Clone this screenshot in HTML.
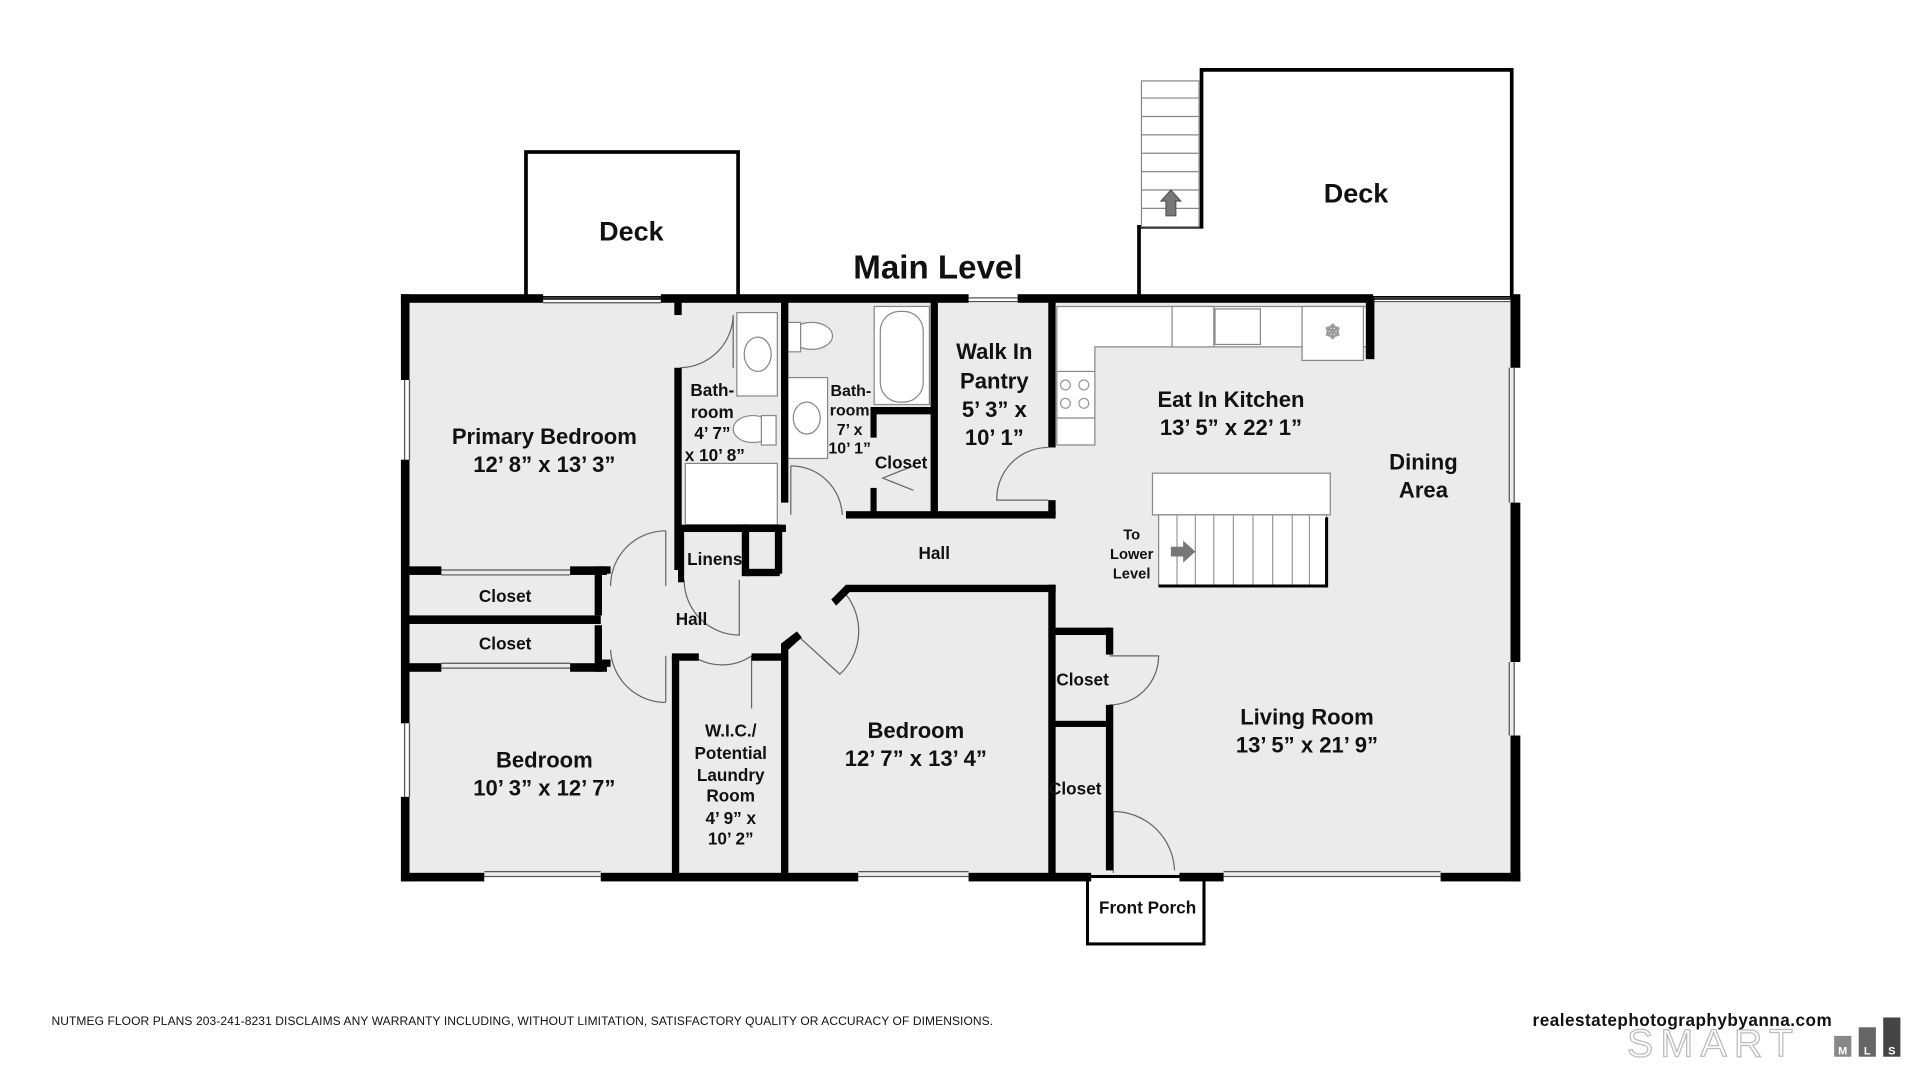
<!DOCTYPE html>
<html><head><meta charset="utf-8"><style>
html,body{margin:0;padding:0;background:#fff;}
svg{display:block}
text{font-family:"Liberation Sans",Arial,sans-serif;font-weight:bold;fill:#111;text-anchor:middle}
</style></head><body>
<svg width="1920" height="1080" viewBox="0 0 1566 881" preserveAspectRatio="none" xmlns="http://www.w3.org/2000/svg">
<rect width="1566" height="881" fill="#fff"/>
<!-- decks -->
<rect x="429" y="124" width="173" height="119" fill="#fff" stroke="#000" stroke-width="3"/>
<polygon points="929,243 929,185 980,185 980,57 1233,57 1233,243" fill="#fff" stroke="#000" stroke-width="3"/>
<g stroke="#888" stroke-width="1" fill="#fff">
<rect x="931" y="66" width="47" height="119"/>
<line x1="931" y1="80" x2="978" y2="80"/><line x1="931" y1="95" x2="978" y2="95"/><line x1="931" y1="110" x2="978" y2="110"/><line x1="931" y1="125" x2="978" y2="125"/><line x1="931" y1="140" x2="978" y2="140"/><line x1="931" y1="155" x2="978" y2="155"/><line x1="931" y1="170" x2="978" y2="170"/>
</g>
<polygon points="955,155 963,164 959,164 959,176 951,176 951,164 947,164" fill="#777" stroke="#555"/>
<rect x="333" y="246" width="902" height="468" fill="#ebebeb"/>
<rect x="887" y="715" width="95" height="55" fill="#fff" stroke="#000" stroke-width="2.5"/>
<g fill="#fff" stroke="#888" stroke-width="1">
<rect x="601" y="255" width="33" height="68"/><ellipse cx="618" cy="289" rx="11" ry="14"/>
<rect x="559" y="378" width="75" height="50"/>
<rect x="641" y="308" width="34" height="66"/><ellipse cx="658" cy="341" rx="11" ry="13"/>
<ellipse cx="662" cy="274" rx="17" ry="11"/><rect x="641" y="263" width="12" height="24"/>
<ellipse cx="614" cy="350" rx="16" ry="11"/><rect x="621" y="339" width="12" height="24"/>
<rect x="713" y="250" width="45" height="80"/><rect x="718" y="254" width="35" height="74" rx="16"/>
<path d="M862,250 H1118 V283 H893 V363 H862 Z"/>
<rect x="956" y="250" width="34" height="33"/><rect x="991" y="252" width="37" height="29"/>
<rect x="1062" y="250" width="50" height="44"/>
<rect x="862" y="303" width="31" height="38"/>
<rect x="940" y="386" width="145" height="34"/>
<rect x="945" y="420" width="137" height="58"/>
</g>
<g stroke="#999" fill="none" stroke-width="1">
<line x1="960" y1="420" x2="960" y2="478"/><line x1="975" y1="420" x2="975" y2="478"/><line x1="990" y1="420" x2="990" y2="478"/><line x1="1006" y1="420" x2="1006" y2="478"/><line x1="1022" y1="420" x2="1022" y2="478"/><line x1="1038" y1="420" x2="1038" y2="478"/><line x1="1054" y1="420" x2="1054" y2="478"/><line x1="1068" y1="420" x2="1068" y2="478"/>
<circle cx="869" cy="314" r="4"/><circle cx="884" cy="314" r="4"/><circle cx="869" cy="329" r="4"/><circle cx="884" cy="329" r="4"/>
<text x="1087" y="276" style="font-size:16px;fill:#444;font-weight:normal">❄</text>
</g>
<polyline points="1082,422 1082,478 945,478" fill="none" stroke="#000" stroke-width="2.5"/>
<polygon points="955,446 965,446 965,441 975,450 965,459 965,454 955,454" fill="#777"/>
<g stroke="#555" stroke-width="1" fill="none">
<path d="M443,243 H539 M443,247 H539 M790,243 H830 M790,246 H830 M1120,243 H1235 M1120,246 H1235"/>
<path d="M330,310 V375 M334,310 V375 M330,590 V650 M334,590 V650 M1235,300 V410 M1231,300 V410 M1235,540 V600 M1231,540 V600"/>
<path d="M395,715 H490 M395,711 H490 M700,715 H790 M700,711 H790 M998,715 H1175 M998,711 H1175"/>
<path d="M360,465 H465 M360,469 H465 M360,545 H465 M360,541 H465"/>
</g>
<g stroke="#666" stroke-width="1" fill="none">
<path d="M555,300 A44,44 0 0 0 598,257 M598,257 V300"/>
<path d="M543,433 V478 M543,433 A45,45 0 0 0 498,478"/>
<path d="M603,473 V518 A45,45 0 0 1 558,473"/>
<path d="M543,573 V535 M543,573 A45,45 0 0 1 498,530"/>
<path d="M613,578 V535 A43,43 0 0 1 570,538"/>
<path d="M645,380 A42,42 0 0 1 687,420 M645,380 V420"/>
<path d="M690,485 A48,48 0 0 1 685,550 L650,518"/>
<path d="M855,365 A42,42 0 0 0 813,408 H855"/>
<path d="M905,575 A40,40 0 0 0 945,535 H905"/>
<path d="M908,662 A50,50 0 0 1 958,710 M908,662 V712"/>
<path d="M745,380 L720,390 L745,400"/>
</g>
<g fill="#000">
<rect x="327" y="240" width="116" height="7"/><rect x="539" y="240" width="251" height="7"/><rect x="830" y="240" width="290" height="7"/>
<rect x="1114" y="243" width="7" height="50"/>
<rect x="1232" y="240" width="8" height="60"/><rect x="1232" y="410" width="8" height="130"/><rect x="1232" y="600" width="8" height="119"/>
<rect x="327" y="240" width="7" height="70"/><rect x="327" y="375" width="7" height="215"/><rect x="327" y="650" width="7" height="69"/>
<rect x="327" y="712" width="68" height="7"/><rect x="490" y="712" width="210" height="7"/><rect x="790" y="712" width="100" height="7"/><rect x="962" y="712" width="36" height="7"/><rect x="1175" y="712" width="65" height="7"/>
<rect x="550" y="243" width="6" height="14"/><rect x="550" y="300" width="6" height="165"/>
<rect x="553" y="428" width="88" height="6"/>
<rect x="637" y="243" width="6" height="167"/>
<rect x="605" y="428" width="6" height="42"/><rect x="632" y="428" width="6" height="40"/><rect x="608" y="464" width="28" height="6"/>
<rect x="553" y="430" width="5" height="45"/>
<rect x="710" y="332" width="52" height="6"/><rect x="710" y="335" width="5" height="22"/><rect x="710" y="398" width="5" height="22"/>
<rect x="759" y="243" width="6" height="177"/>
<rect x="855" y="243" width="6" height="122"/><rect x="855" y="408" width="6" height="12"/>
<rect x="690" y="417" width="171" height="6"/>
<rect x="690" y="477" width="171" height="6"/><polygon points="690,477 696,480 682,494 678,489"/>
<rect x="855" y="477" width="6" height="240"/>
<polygon points="637,525 650,515 654,520 643,530"/>
<rect x="637" y="525" width="6" height="192"/>
<rect x="548" y="535" width="6" height="180"/><rect x="548" y="533" width="22" height="6"/><rect x="613" y="533" width="27" height="6"/>
<rect x="330" y="462" width="30" height="7"/><rect x="465" y="462" width="30" height="7"/>
<rect x="330" y="502" width="160" height="7"/>
<rect x="330" y="541" width="30" height="7"/><rect x="465" y="541" width="30" height="7"/>
<rect x="485" y="462" width="6" height="40"/><rect x="485" y="510" width="6" height="38"/>
<rect x="490" y="462" width="8" height="6"/><rect x="490" y="538" width="8" height="6"/>
<rect x="858" y="512" width="48" height="6"/><rect x="902" y="512" width="6" height="22"/><rect x="902" y="575" width="6" height="135"/>
<rect x="858" y="588" width="48" height="5"/>
</g>
<text x="765" y="227" style="font-size:27px">Main Level</text>
<text x="515" y="196" style="font-size:22px">Deck</text>
<text x="1106" y="165" style="font-size:22px">Deck</text>
<text x="444" y="362" style="font-size:18px">Primary Bedroom</text>
<text x="444" y="385" style="font-size:18px">12’ 8” x 13’ 3”</text>
<g style="font-size:14px"><text x="581" y="323">Bath-</text><text x="581" y="341">room</text><text x="581" y="358">4’ 7”</text><text x="583" y="376">x 10’ 8”</text></g>
<g style="font-size:13px"><text x="694" y="323">Bath-</text><text x="693" y="339">room</text><text x="693" y="355">7’ x</text><text x="693" y="370">10’ 1”</text></g>
<text x="735" y="382" style="font-size:14px">Closet</text>
<g style="font-size:18px"><text x="811" y="293">Walk In</text><text x="811" y="317">Pantry</text><text x="811" y="340">5’ 3” x</text><text x="811" y="363">10’ 1”</text></g>
<text x="1004" y="332" style="font-size:18px">Eat In Kitchen</text>
<text x="1004" y="355" style="font-size:18px">13’ 5” x 22’ 1”</text>
<text x="1161" y="383" style="font-size:18px">Dining</text>
<text x="1161" y="406" style="font-size:18px">Area</text>
<g style="font-size:12px"><text x="923" y="440">To</text><text x="923" y="456">Lower</text><text x="923" y="472">Level</text></g>
<text x="762" y="456" style="font-size:14px">Hall</text>
<text x="583" y="461" style="font-size:14px">Linens</text>
<text x="564" y="510" style="font-size:14px">Hall</text>
<text x="412" y="491" style="font-size:14px">Closet</text>
<text x="412" y="530" style="font-size:14px">Closet</text>
<text x="444" y="626" style="font-size:18px">Bedroom</text>
<text x="444" y="649" style="font-size:18px">10’ 3” x 12’ 7”</text>
<g style="font-size:14px"><text x="596" y="601">W.I.C./</text><text x="596" y="619">Potential</text><text x="596" y="637">Laundry</text><text x="596" y="654">Room</text><text x="596" y="672">4’ 9” x</text><text x="596" y="689">10’ 2”</text></g>
<text x="747" y="602" style="font-size:18px">Bedroom</text>
<text x="747" y="625" style="font-size:18px">12’ 7” x 13’ 4”</text>
<text x="883" y="559" style="font-size:14px">Closet</text>
<text x="877" y="648" style="font-size:14px">Closet</text>
<text x="1066" y="591" style="font-size:18px">Living Room</text>
<text x="1066" y="614" style="font-size:18px">13’ 5” x 21’ 9”</text>
<text x="936" y="745" style="font-size:14px">Front Porch</text>
<text x="42" y="836" style="font-size:9.8px;font-weight:normal;text-anchor:start" textLength="768">NUTMEG FLOOR PLANS 203-241-8231 DISCLAIMS ANY WARRANTY INCLUDING, WITHOUT LIMITATION, SATISFACTORY QUALITY OR ACCURACY OF DIMENSIONS.</text>
<text x="1250" y="837" style="font-size:14px;text-anchor:start" textLength="244">realestatephotographybyanna.com</text>
<text x="1327" y="862" style="font-size:32px;font-weight:normal;text-anchor:start;fill:none;stroke:#bbb;stroke-width:1;letter-spacing:6px">SMART</text>
<rect x="1496" y="845" width="14" height="17" fill="#888"/><rect x="1516" y="838" width="14" height="24" fill="#666"/><rect x="1536" y="830" width="14" height="32" fill="#444"/>
<text x="1503" y="860" style="font-size:9px;fill:#fff">M</text><text x="1523" y="860" style="font-size:9px;fill:#fff">L</text><text x="1543" y="860" style="font-size:9px;fill:#fff">S</text>
</svg>
</body></html>
